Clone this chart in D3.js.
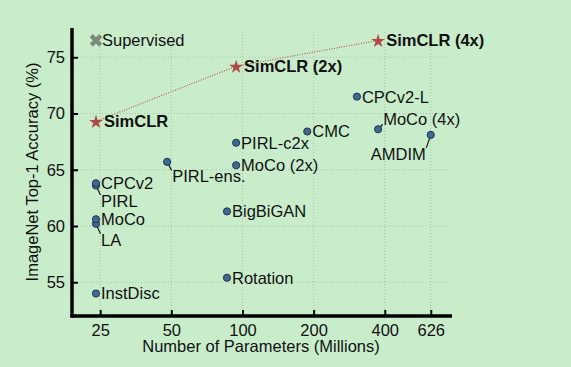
<!DOCTYPE html>
<html><head><meta charset="utf-8">
<script src="https://cdn.jsdelivr.net/npm/d3@7"></script>
<style>body{margin:0;background:#c8ecca;}svg{display:block;}text{font-family:"Liberation Sans",Arial,sans-serif;}</style>
</head><body>
<svg id="c" width="571" height="367"></svg>
<script>
const methods = ["InstDisc","Rotation","BigBiGAN","LA","MoCo","PIRL","CPCv2","PIRL-ens.","PIRL-c2x","MoCo (2x)","CMC","CPCv2-L","MoCo (4x)","AMDIM"];
const params  = [24, 86, 86, 24, 24, 24, 24, 48, 94, 94, 188, 305, 375, 626];
const accs    = [54.0, 55.4, 61.3, 60.2, 60.6, 63.6, 63.8, 65.7, 67.4, 65.4, 68.4, 71.5, 68.6, 68.1];
// label placement: dx,dy text offset; leader line flag
const labelDx = [5, 5, 5, 5, 5, 5, 5, 5, 5, 5, 5, 5, 5, -5];
const labelDy = [0, 0, 0, 16, 0, 15.5, 0, 14.5, 0, 0, 0, 0, -10, 19];
const leader  = [0, 0, 0, 1, 0, 1, 0, 1, 0, 0, 0, 0, 1, 1];

const simNames  = ["SimCLR","SimCLR (2x)","SimCLR (4x)"];
const simParams = [24, 94, 375];
const simAccs   = [69.3, 74.2, 76.5];

const supName = "Supervised", supParam = 24, supAcc = 76.5;

const xTicks = [25, 50, 100, 200, 400, 626];
const yTicks = [55, 60, 65, 70, 75];

const FS = 16.5;
const svg = d3.select("#c");
svg.append("rect").attr("x",0).attr("y",0).attr("width",490).attr("height",358).attr("fill","#c9edcb");

const x = d3.scaleLog().domain([19, 770]).range([72, 452]);
const y = d3.scaleLinear().domain([52, 77.6]).range([316, 28]);

// grid
const g = svg.append("g");
g.selectAll("line.vx").data(xTicks).join("line")
  .attr("x1",d=>x(d)).attr("x2",d=>x(d)).attr("y1",32).attr("y2",316)
  .attr("stroke","#a8c4a9").attr("stroke-width",1).attr("stroke-dasharray","1,2");
g.selectAll("line.hy").data(yTicks).join("line")
  .attr("y1",d=>y(d)).attr("y2",d=>y(d)).attr("x1",72).attr("x2",448)
  .attr("stroke","#a8c4a9").attr("stroke-width",1).attr("stroke-dasharray","1,2");

// axes
const xAxis = d3.axisBottom(x).tickValues(xTicks).tickFormat(d3.format("d")).tickSizeInner(-6).tickSizeOuter(0).tickPadding(8);
const yAxis = d3.axisLeft(y).tickValues(yTicks).tickFormat(d3.format("d")).tickSizeInner(-6).tickSizeOuter(0).tickPadding(8);
const ax = svg.append("g").attr("transform","translate(0,316)").call(xAxis);
const ay = svg.append("g").attr("transform","translate(72,0)").call(yAxis);
[ax, ay].forEach(a => {
  a.select(".domain").remove();
  a.selectAll(".tick line").attr("stroke","#000").attr("stroke-width",2);
  a.selectAll(".tick text").attr("font-size",FS).attr("fill","#111").attr("font-family","Liberation Sans, Arial, sans-serif");
});
ay.selectAll(".tick text").attr("x",-7);
// spines
svg.append("line").attr("x1",72).attr("x2",72).attr("y1",28).attr("y2",317.5).attr("stroke","#000").attr("stroke-width",3.5);
svg.append("line").attr("x1",70.5).attr("x2",452).attr("y1",316).attr("y2",316).attr("stroke","#000").attr("stroke-width",3.5);

// axis titles
svg.append("text").attr("x",261).attr("y",352).attr("text-anchor","middle").attr("font-size",FS).attr("fill","#111").text("Number of Parameters (Millions)");
svg.append("text").attr("transform","translate(38,172) rotate(-90)").attr("text-anchor","middle").attr("font-size",FS).attr("fill","#111").text("ImageNet Top-1 Accuracy (%)");

// SimCLR dotted line
svg.append("path").datum(simParams.map((p,i)=>[p, simAccs[i]]))
  .attr("d", d3.line().x(d=>x(d[0])).y(d=>y(d[1])))
  .attr("fill","none").attr("stroke","#b4504c").attr("stroke-width",1.1).attr("stroke-dasharray","1,1.5");

// leader lines
const pts = methods.map((m,i)=>({m, px:x(params[i]), py:y(accs[i]), dx:labelDx[i], dy:labelDy[i], lead:leader[i]}));
svg.selectAll("line.lead").data(pts.filter(d=>d.lead)).join("line")
  .attr("x1",d=>d.px).attr("y1",d=>d.py)
  .attr("x2",d=>d.px + (d.dx>0? d.dx-0.5 : d.dx+0.5))
  .attr("y2",d=>d.py + d.dy + (d.dy>0? -6 : 5))
  .attr("stroke","#1a1a1a").attr("stroke-width",1.2);

// points
svg.selectAll("circle.pt").data(pts).join("circle")
  .attr("cx",d=>d.px).attr("cy",d=>d.py).attr("r",3.6)
  .attr("fill","#3c6a94").attr("stroke","#1f3550").attr("stroke-width",1);
svg.selectAll("text.pt").data(pts).join("text")
  .attr("x",d=>d.px + d.dx).attr("y",d=>d.py + d.dy)
  .attr("dy","0.36em").attr("text-anchor",d=>d.dx<0?"end":"start")
  .attr("font-size",FS).attr("fill","#111").text(d=>d.m);

// stars
const star = d3.symbol().type(d3.symbolStar).size(60);
simNames.forEach((n,i)=>{
  const px = x(simParams[i]), py = y(simAccs[i]);
  svg.append("path").attr("d",star()).attr("transform",`translate(${px},${py+0.8})`).attr("fill","#b14a47");
  svg.append("text").attr("x",px+8).attr("y",py).attr("dy","0.36em").attr("font-size",FS).attr("font-weight","bold").attr("fill","#111").text(n);
});

// supervised
const sx = x(supParam), sy = y(supAcc);
svg.append("path").attr("d",d3.symbol().type(d3.symbolCross).size(100)()).attr("transform",`translate(${sx},${sy}) rotate(45)`).attr("fill","#7b8b7c");
svg.append("text").attr("x",sx+6).attr("y",sy).attr("dy","0.36em").attr("font-size",FS).attr("fill","#111").text(supName);
</script>
</body></html>
